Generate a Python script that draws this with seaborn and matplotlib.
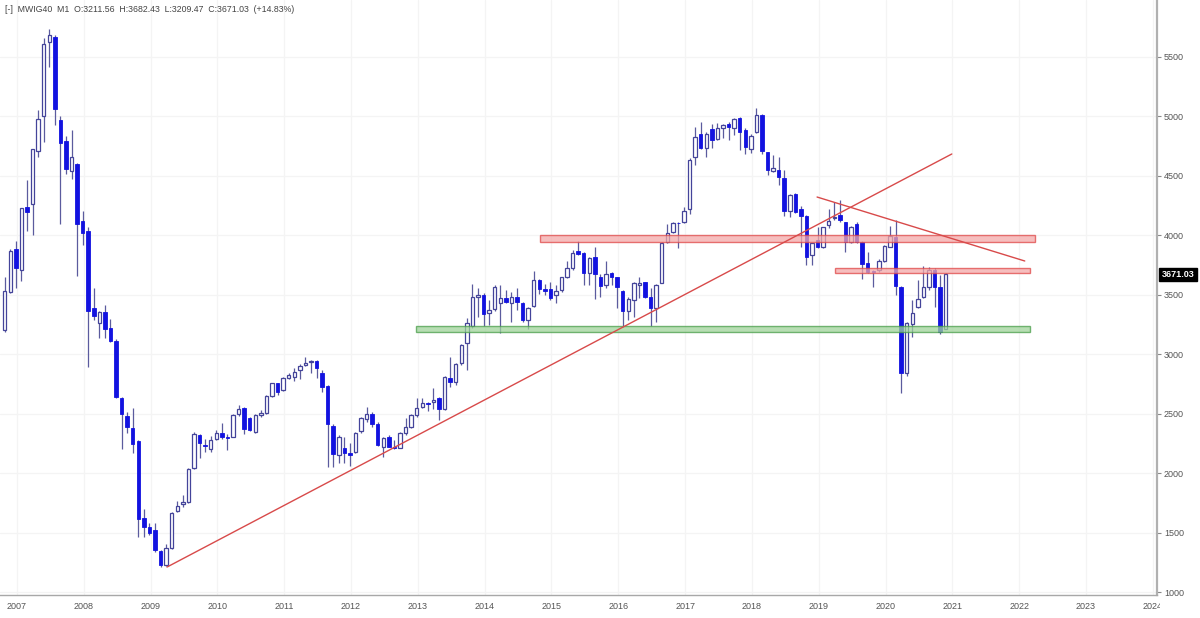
import numpy as np
import pandas as pd
import matplotlib
matplotlib.use("Agg")
import matplotlib.pyplot as plt
import matplotlib.transforms as mtransforms
from matplotlib.patches import Rectangle
import seaborn as sns

# ---------------- data (monthly candles, Oct 2006 .. Nov 2020) ----------------
opens = [3204, 3526, 3882, 3708, 4241, 4260, 4712, 5006, 5628, 5665,
         4970, 4793, 4544, 4597, 4120, 4036, 3391, 3265, 3352, 3223,
         3114, 2629, 2483, 2382, 2270, 1620, 1550, 1522, 1348, 1227,
         1373, 1684, 1740, 1754, 2040, 2320, 2236, 2203, 2284, 2334,
         2301, 2306, 2497, 2545, 2461, 2348, 2489, 2503, 2648, 2755,
         2699, 2797, 2805, 2867, 2909, 2937, 2945, 2839, 2732, 2399,
         2152, 2214, 2166, 2180, 2356, 2452, 2497, 2410, 2222, 2306,
         2222, 2208, 2334, 2391, 2489, 2559, 2587, 2601, 2629, 2536,
         2803, 2769, 2923, 3091, 3237, 3484, 3497, 3344, 3377, 3428,
         3470, 3433, 3478, 3433, 3288, 3405, 3624, 3545, 3548, 3498,
         3540, 3652, 3722, 3870, 3848, 3680, 3814, 3646, 3582, 3680,
         3646, 3534, 3366, 3456, 3582, 3610, 3478, 3386, 3601, 3946,
         4025, 4106, 4109, 4221, 4661, 4849, 4737, 4894, 4810, 4899,
         4933, 4899, 4984, 4885, 4726, 4866, 5011, 4698, 4541, 4549,
         4479, 4207, 4347, 4218, 4162, 3834, 3960, 3904, 4086, 4143,
         4171, 4115, 3946, 4095, 3946, 3764, 3702, 3708, 3787, 3904,
         3988, 3562, 2845, 3254, 3394, 3484, 3568, 3708, 3562, 3211.56]
highs = [3652, 3882, 3955, 4232, 4465, 4729, 5054, 5656, 5732, 5684,
         5003, 4835, 4885, 4605, 4207, 4067, 3554, 3366, 3414, 3296,
         3130, 2640, 2511, 2545, 2275, 1695, 1578, 1578, 1354, 1404,
         1676, 1768, 1816, 2040, 2343, 2326, 2287, 2312, 2362, 2419,
         2329, 2497, 2573, 2559, 2470, 2497, 2531, 2657, 2760, 2760,
         2811, 2839, 2881, 2917, 2979, 2950, 2950, 2867, 2740, 2410,
         2321, 2306, 2250, 2348, 2475, 2559, 2517, 2433, 2301, 2321,
         2278, 2348, 2461, 2497, 2629, 2634, 2601, 2713, 2637, 2817,
         2979, 2923, 3086, 3301, 3590, 3554, 3512, 3456, 3582, 3582,
         3540, 3526, 3554, 3442, 3394, 3702, 3629, 3590, 3610, 3582,
         3652, 3786, 3876, 3955, 3862, 3820, 3899, 3674, 3786, 3694,
         3652, 3540, 3478, 3610, 3652, 3610, 3554, 3590, 3946, 4092,
         4115, 4115, 4241, 4647, 4913, 4955, 4866, 4933, 4942, 4933,
         4955, 4984, 4998, 4900, 4849, 5073, 5017, 4703, 4675, 4661,
         4549, 4347, 4353, 4246, 4171, 3938, 4072, 4072, 4218, 4283,
         4297, 4115, 4078, 4115, 3952, 3862, 3708, 3798, 3918, 4078,
         4129, 3573, 3274, 3456, 3624, 3742, 3730, 3722, 3666, 3682.43]
lows = [3190, 3518, 3554, 3616, 4039, 4003, 4661, 4787, 5412, 4928,
        4095, 4513, 4471, 3658, 3918, 2889, 3288, 3139, 3133, 3100,
        2630, 2203, 2340, 2166, 1466, 1466, 1480, 1340, 1213, 1219,
        1362, 1676, 1718, 1746, 2032, 2124, 2180, 2180, 2278, 2284,
        2194, 2301, 2480, 2326, 2355, 2340, 2475, 2497, 2643, 2657,
        2693, 2788, 2777, 2788, 2901, 2839, 2797, 2685, 2054, 2054,
        2082, 2088, 2060, 2166, 2340, 2433, 2391, 2228, 2138, 2217,
        2200, 2208, 2320, 2377, 2475, 2545, 2525, 2536, 2447, 2530,
        2727, 2741, 2909, 2867, 3217, 3316, 3237, 3245, 3366, 3181,
        3428, 3273, 3372, 3273, 3209, 3400, 3506, 3498, 3456, 3428,
        3526, 3638, 3708, 3834, 3582, 3582, 3461, 3484, 3554, 3582,
        3386, 3226, 3288, 3316, 3470, 3470, 3237, 3273, 3596, 3932,
        4017, 3890, 4101, 4179, 4591, 4726, 4661, 4737, 4801, 4815,
        4801, 4843, 4717, 4681, 4689, 4857, 4681, 4507, 4535, 4423,
        4162, 4157, 4190, 3904, 3750, 3750, 3890, 3890, 4058, 4129,
        4115, 3862, 3938, 3932, 3630, 3680, 3568, 3694, 3778, 3899,
        3498, 2671, 2817, 3147, 3386, 3470, 3540, 3400, 3170, 3209.47]
closes = [3535, 3871, 3722, 4227, 4199, 4723, 4975, 5609, 5684, 5059,
          4773, 4557, 4661, 4092, 4022, 3363, 3324, 3358, 3209, 3114,
          2643, 2497, 2391, 2242, 1611, 1550, 1494, 1354, 1227, 1367,
          1668, 1726, 1754, 2032, 2330, 2250, 2228, 2278, 2340, 2301,
          2292, 2489, 2536, 2368, 2362, 2489, 2508, 2648, 2755, 2685,
          2797, 2825, 2853, 2901, 2929, 2945, 2881, 2727, 2413, 2161,
          2301, 2166, 2152, 2340, 2461, 2497, 2413, 2236, 2292, 2222,
          2208, 2340, 2391, 2489, 2545, 2587, 2581, 2615, 2536, 2811,
          2769, 2915, 3077, 3265, 3484, 3497, 3338, 3372, 3568, 3470,
          3442, 3478, 3442, 3288, 3386, 3624, 3545, 3534, 3470, 3531,
          3646, 3722, 3854, 3842, 3680, 3806, 3674, 3573, 3674, 3646,
          3568, 3366, 3461, 3601, 3601, 3478, 3386, 3582, 3938, 4017,
          4106, 4101, 4204, 4633, 4829, 4737, 4849, 4801, 4899, 4928,
          4908, 4978, 4871, 4745, 4838, 5011, 4709, 4549, 4563, 4493,
          4207, 4339, 4199, 4162, 3815, 3932, 3904, 4067, 4123, 4157,
          4129, 3946, 4072, 3946, 3759, 3694, 3694, 3787, 3910, 3994,
          3573, 2845, 3265, 3349, 3461, 3562, 3708, 3562, 3190, 3671.03]

first_month = "2006-10"
year_labels = [str(y) for y in range(2007, 2025)]
price_ticks = list(range(1000, 6000, 500))

# support / resistance zones: (start month idx, end month idx, low, high)
red_zone_1 = [96.1, 185.0, 3942, 4002]
red_zone_2 = [149.1, 184.1, 3684, 3725]
green_zone = [73.9, 184.1, 3188, 3238]
# trend lines: month idx / price pairs
trend_up_x = [29.15, 170.1]
trend_up_y = [1210, 4684]
trend_down_x = [145.9, 183.2]
trend_down_y = [4322, 3784]

# ---------------- plotting ----------------
n = len(closes)
months = pd.period_range(first_month, periods=n, freq="M")
df = pd.DataFrame({"open": opens, "high": highs, "low": lows, "close": closes})
df["x"] = np.arange(n)
df["up"] = df["close"] >= df["open"]

sns.set_theme(style="white")
plt.rcParams["font.family"] = ["Liberation Sans", "DejaVu Sans"]

W, H = 1200, 618
fig = plt.figure(figsize=(W / 100, H / 100), dpi=100)
fig.patch.set_facecolor("white")
ax = fig.add_axes([0, 23 / H, 1157 / W, 1 - 23 / H])
ax.set_facecolor("white")

ax.set_xlim(-0.844, 206.95)
ax.set_ylim(975, 5979)

# gridlines
jan_idx = [i for i, p in enumerate(months) if p.month == 1]
year_pos = [i - 0.8 for i in jan_idx] + [jan_idx[-1] + 12 * k - 0.8 for k in range(1, 5)]
year_pos = year_pos[:len(year_labels)]
ax.set_xticks(year_pos)
ax.set_xticklabels(year_labels)
ax.set_yticks(price_ticks)
ax.grid(True, color="#f4f4f4", lw=0.9, zorder=0)

wick_col = "#5b5b9e"
up_edge = "#44449a"
down_col = "#1212e0"

# wicks
ax.vlines(df["x"], df["low"], df["high"], color=wick_col, lw=0.9, zorder=2)
# bodies
body_bottom = np.minimum(df["open"], df["close"])
body_h = np.maximum(np.abs(df["close"] - df["open"]), 6)
up = df["up"].values
ax.bar(df["x"][up], body_h[up], bottom=body_bottom[up], width=0.62,
       facecolor="white", edgecolor=up_edge, linewidth=0.9, zorder=3)
ax.bar(df["x"][~up], body_h[~up], bottom=body_bottom[~up], width=0.62,
       facecolor=down_col, edgecolor=down_col, linewidth=0.6, zorder=3)

# zones
for (x0, x1, y0, y1), fc, ec in [(red_zone_1, "#f3a9a9", "#e04848"),
                                 (red_zone_2, "#f3a9a9", "#e04848"),
                                 (green_zone, "#9fd39a", "#4a9e4a")]:
    ax.add_patch(Rectangle((x0, y0), x1 - x0, y1 - y0, facecolor=fc,
                           edgecolor=ec, lw=1.0, alpha=0.75, zorder=4))

# trend lines
tl = pd.DataFrame({"x": trend_up_x + trend_down_x,
                   "y": trend_up_y + trend_down_y,
                   "line": ["up", "up", "down", "down"]})
sns.lineplot(data=tl, x="x", y="y", units="line", estimator=None,
             color="#d84a4a", lw=1.0, ax=ax, zorder=5)
ax.set_xlabel("")
ax.set_ylabel("")

# axes styling
for s in ["left", "top"]:
    ax.spines[s].set_visible(False)
ax.spines["right"].set_color("#b0b0b0")
ax.spines["right"].set_linewidth(1.6)
ax.spines["bottom"].set_color("#a8a8a8")
ax.spines["bottom"].set_linewidth(1.0)
ax.yaxis.tick_right()
ax.tick_params(axis="y", direction="out", length=3, width=0.8, colors="#888888",
               labelcolor="#555555", labelsize=6.5, pad=2)
ax.tick_params(axis="x", direction="out", length=3, width=0.8, colors="#888888",
               labelcolor="#555555", labelsize=6.5, pad=2)

clip = mtransforms.TransformedBbox(mtransforms.Bbox([[0, 0], [1160 / W, 1]]),
                                   fig.transFigure)
for t in ax.xaxis.get_major_ticks():
    t.label1.set_clip_box(clip)
    t.label1.set_clip_on(True)

# last price tag
last = closes[-1]
trans = mtransforms.blended_transform_factory(ax.transAxes, ax.transData)
ax.text(1.004, last, f"{last:.2f}", transform=trans, ha="left", va="center",
        color="white", fontsize=6.5, fontweight="bold", zorder=10, clip_on=False,
        bbox=dict(boxstyle="square,pad=0.25", facecolor="black", edgecolor="black"))

# header
hdr = (f"[-]  MWIG40  M1  O:{opens[-1]:.2f}  H:{highs[-1]:.2f}  "
       f"L:{lows[-1]:.2f}  C:{closes[-1]:.2f}  (+14.83%)")
fig.text(5 / W, 1 - 9 / H, hdr, fontsize=6.3, color="#444444", va="center", ha="left")

fig.savefig("out.png", dpi=100, facecolor="white")
